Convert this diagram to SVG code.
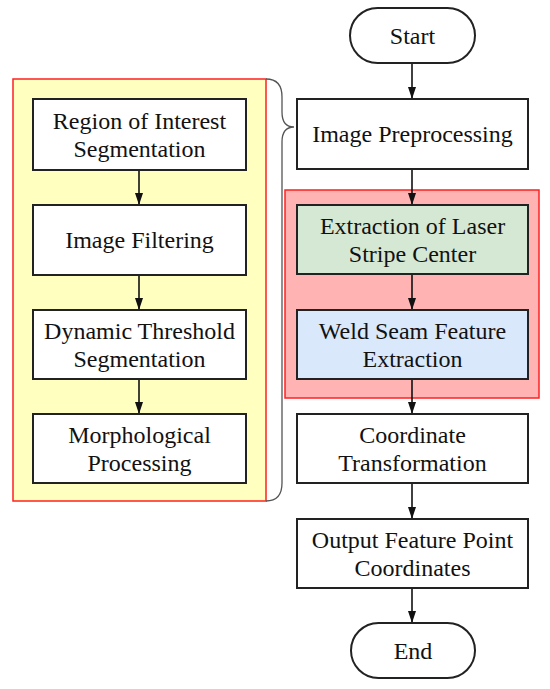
<svg xmlns="http://www.w3.org/2000/svg" width="550" height="689" viewBox="0 0 550 689">
<style>
.box{fill:#fff;stroke:#222;stroke-width:2}
.t{font-family:"Liberation Serif","Times New Roman",serif;font-size:24px;fill:#111;text-anchor:middle}
.c{stroke:#111;stroke-width:1.6;fill:none}
</style>
<defs>
<marker id="ah" viewBox="0 0 12 8" refX="12" refY="4" markerWidth="12" markerHeight="8" markerUnits="userSpaceOnUse" orient="auto">
<path d="M0,0 L12,4 L0,8 z" fill="#111"/>
</marker>
</defs>
<rect width="550" height="689" fill="#fff"/>
<g id="group-left">
<rect x="13" y="79" width="253" height="422" fill="#FFFFC0" stroke="#FF2020" stroke-width="1.5"/>
</g>
<g id="group-red">
<rect x="285" y="190" width="254" height="208" fill="#FFB3B3" stroke="#FF2020" stroke-width="1.5"/>
</g>
<g id="brace">
<path d="M266,79 Q282,79 282,97 L282,112 Q282,127 294,127 Q282,127 282,142 L282,483 Q282,501 266,501" fill="none" stroke="#555" stroke-width="1.3"/>
</g>
<g id="connectors">
<line class="c" x1="139" y1="170" x2="139" y2="205" marker-end="url(#ah)"/>
<line class="c" x1="139" y1="275" x2="139" y2="310" marker-end="url(#ah)"/>
<line class="c" x1="139" y1="379" x2="139" y2="414" marker-end="url(#ah)"/>
<line class="c" x1="412" y1="63" x2="412" y2="99" marker-end="url(#ah)"/>
<line class="c" x1="412" y1="169" x2="412" y2="205" marker-end="url(#ah)"/>
<line class="c" x1="412" y1="274" x2="412" y2="310" marker-end="url(#ah)"/>
<line class="c" x1="412" y1="379" x2="412" y2="414" marker-end="url(#ah)"/>
<line class="c" x1="412" y1="483" x2="412" y2="519" marker-end="url(#ah)"/>
<line class="c" x1="412" y1="588" x2="412" y2="623" marker-end="url(#ah)"/>
</g>
<g id="roi">
<rect class="box" x="33" y="99" width="213" height="71"/>
<text class="t" x="139.5" y="129">Region of Interest</text>
<text class="t" x="139.5" y="157">Segmentation</text>
</g>
<g id="filter">
<rect class="box" x="33" y="205" width="213" height="70"/>
<text class="t" x="139.5" y="248">Image Filtering</text>
</g>
<g id="dynamic">
<rect class="box" x="33" y="310" width="213" height="69"/>
<text class="t" x="139.5" y="339">Dynamic Threshold</text>
<text class="t" x="139.5" y="367">Segmentation</text>
</g>
<g id="morph">
<rect class="box" x="33" y="414" width="213" height="69"/>
<text class="t" x="139.5" y="443">Morphological</text>
<text class="t" x="139.5" y="471">Processing</text>
</g>
<g id="start">
<rect class="box" x="350" y="8" width="125" height="55" rx="27.5"/>
<text class="t" x="412.5" y="44">Start</text>
</g>
<g id="preproc">
<rect class="box" x="297" y="99" width="231" height="70"/>
<text class="t" x="412.5" y="142">Image Preprocessing</text>
</g>
<g id="laser">
<rect class="box" x="297" y="205" width="231" height="69" style="fill:#D5E8D4"/>
<text class="t" x="412.5" y="234">Extraction of Laser</text>
<text class="t" x="412.5" y="262">Stripe Center</text>
</g>
<g id="weld">
<rect class="box" x="297" y="310" width="231" height="69" style="fill:#DAE8FC"/>
<text class="t" x="412.5" y="339">Weld Seam Feature</text>
<text class="t" x="412.5" y="367">Extraction</text>
</g>
<g id="coord">
<rect class="box" x="297" y="414" width="231" height="69"/>
<text class="t" x="412.5" y="443">Coordinate</text>
<text class="t" x="412.5" y="471">Transformation</text>
</g>
<g id="output">
<rect class="box" x="297" y="519" width="231" height="69"/>
<text class="t" x="412.5" y="548">Output Feature Point</text>
<text class="t" x="412.5" y="576">Coordinates</text>
</g>
<g id="end">
<rect class="box" x="351" y="623" width="124" height="55" rx="27.5"/>
<text class="t" x="413" y="659">End</text>
</g>
</svg>
